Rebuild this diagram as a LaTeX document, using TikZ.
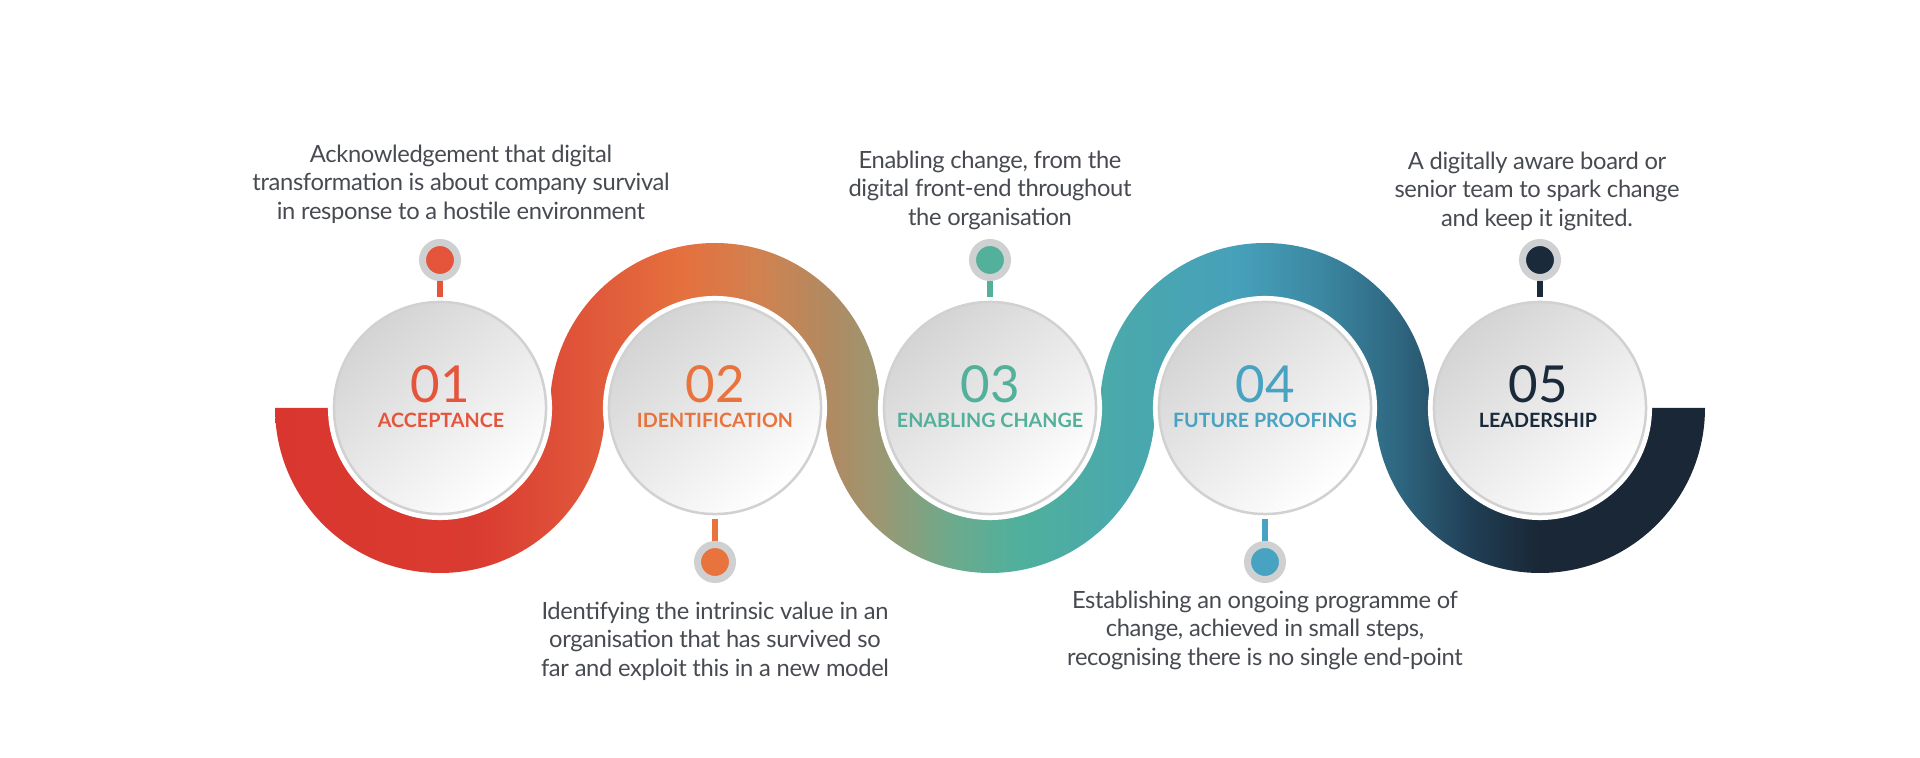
\documentclass[tikz,border=0pt]{standalone}
\usepackage{fontspec}
\setmainfont{Lato}
\newfontfamily\desctight[LetterSpace=-1.5]{Lato}
\usepackage{tikz}
\usetikzlibrary{positioning}

\definecolor{accred}{HTML}{E4553C}
\definecolor{idorange}{HTML}{E8733C}
\definecolor{enteal}{HTML}{52B09B}
\definecolor{fublue}{HTML}{48A2C2}
\definecolor{leadnavy}{HTML}{1B2A3B}
\definecolor{desctext}{HTML}{474B51}
\definecolor{ringgray}{HTML}{CFD0D2}

\definecolor{b0}{HTML}{D9362F}
\definecolor{b1}{HTML}{DA3B30}
\definecolor{b2}{HTML}{E0553A}
\definecolor{b3}{HTML}{E5703E}
\definecolor{b4}{HTML}{D08250}
\definecolor{b5}{HTML}{B08A62}
\definecolor{b6}{HTML}{9A9873}
\definecolor{b7}{HTML}{6DAA8C}
\definecolor{b8}{HTML}{4FB09C}
\definecolor{b9}{HTML}{4AA9AC}
\definecolor{b10}{HTML}{46A0BA}
\definecolor{b11}{HTML}{3C88A2}
\definecolor{b12}{HTML}{2E6680}
\definecolor{b13}{HTML}{203F55}
\definecolor{b14}{HTML}{1A2736}

\pgfdeclarehorizontalshading{bandshade}{100bp}{color(0bp)=(b0); color(25bp)=(b0); color(32bp)=(b1); color(35.7bp)=(b2); color(39.2bp)=(b3); color(42bp)=(b4); color(44.4bp)=(b5); color(46.2bp)=(b6); color(48.6bp)=(b7); color(51bp)=(b8); color(54.5bp)=(b9); color(58.7bp)=(b10); color(61.5bp)=(b11); color(64.3bp)=(b12); color(66.8bp)=(b13); color(69.2bp)=(b14); color(75bp)=(b14); color(100bp)=(b14)}

\begin{document}
\begin{tikzpicture}[
        x=0.01cm, y=0.01cm,
        stepcircle/.style={circle, minimum size=2.12cm, inner sep=0pt, preaction={draw=white, line width=1.2mm}, draw=black!18, line width=0.25mm, top color=black!17, bottom color=white, shading angle=40},
        numtext/.style={font=\fontsize{14.5}{14.5}\selectfont, inner sep=0pt},
        steplabel/.style={font=\fontsize{5.6}{6}\selectfont\bfseries, inner sep=0pt},
        pin/.style={circle, minimum size=0.35cm, inner sep=0pt, draw=ringgray, line width=0.7mm},
        stem/.style={line width=0.6mm, shorten >=0.4mm},
        desc/.style={align=center, text=desctext, font=\desctight\fontsize{6.75}{8.1}\selectfont, inner sep=0pt}
    ]

    \useasboundingbox (0,0) rectangle (1920,-758);

    % wave band
    \shade[shading=bandshade] (275,-408)
        arc[start angle=180, end angle=360, radius=165]
        arc[start angle=180, end angle=0, radius=110]
        arc[start angle=180, end angle=360, radius=165]
        arc[start angle=180, end angle=0, radius=110]
        arc[start angle=180, end angle=360, radius=165]
        -- (1650,-408)
        arc[start angle=0, end angle=-180, radius=110]
        arc[start angle=0, end angle=180, radius=165]
        arc[start angle=0, end angle=-180, radius=110]
        arc[start angle=0, end angle=180, radius=165]
        arc[start angle=0, end angle=-180, radius=110]
        -- cycle;

    \node[stepcircle] (c1) at (440,-408) {};
    \node[stepcircle] (c2) at (715,-408) {};
    \node[stepcircle] (c3) at (990,-408) {};
    \node[stepcircle] (c4) at (1265,-408) {};
    \node[stepcircle] (c5) at (1540,-408) {};

    \node[numtext, text=accred] (n1) at (440,-384) {01};
    \node[numtext, text=idorange] (n2) at (715,-384) {02};
    \node[numtext, text=enteal] (n3) at (990,-384) {03};
    \node[numtext, text=fublue] (n4) at (1265,-384) {04};
    \node[numtext, text=leadnavy] (n5) at (1538,-384) {05};

    \node[steplabel, text=accred] (l1) at (441,-420) {ACCEPTANCE};
    \node[steplabel, text=idorange] (l2) at (715,-420) {IDENTIFICATION};
    \node[steplabel, text=enteal] (l3) at (990,-420) {ENABLING CHANGE};
    \node[steplabel, text=fublue] (l4) at (1265,-420) {FUTURE PROOFING};
    \node[steplabel, text=leadnavy] (l5) at (1538,-420) {LEADERSHIP};

    % pins
    \node[pin, fill=accred] (p1) at (440,-260) {};
    \node[pin, fill=idorange] (p2) at (715,-562) {};
    \node[pin, fill=enteal] (p3) at (990,-260) {};
    \node[pin, fill=fublue] (p4) at (1265,-562) {};
    \node[pin, fill=leadnavy] (p5) at (1540,-260) {};

    \draw[stem, accred] (p1) -- (c1);
    \draw[stem, idorange] (p2) -- (c2);
    \draw[stem, enteal] (p3) -- (c3);
    \draw[stem, fublue] (p4) -- (c4);
    \draw[stem, leadnavy] (p5) -- (c5);

    \node[desc] (t1) at (461,-184) {Acknowledgement that digital\\transformation is about company survival\\in response to a hostile environment};
    \node[desc] (t2) at (715,-641) {Identifying the intrinsic value in an\\organisation that has survived so\\far and exploit this in a new model};
    \node[desc] (t3) at (990,-190) {Enabling change, from the\\digital front-end throughout\\the organisation};
    \node[desc] (t4) at (1265,-630) {Establishing an ongoing programme of\\change, achieved in small steps,\\recognising there is no single end-point};
    \node[desc] (t5) at (1537,-191) {A digitally aware board or\\senior team to spark change\\and keep it ignited.};

\end{tikzpicture}
\end{document}
